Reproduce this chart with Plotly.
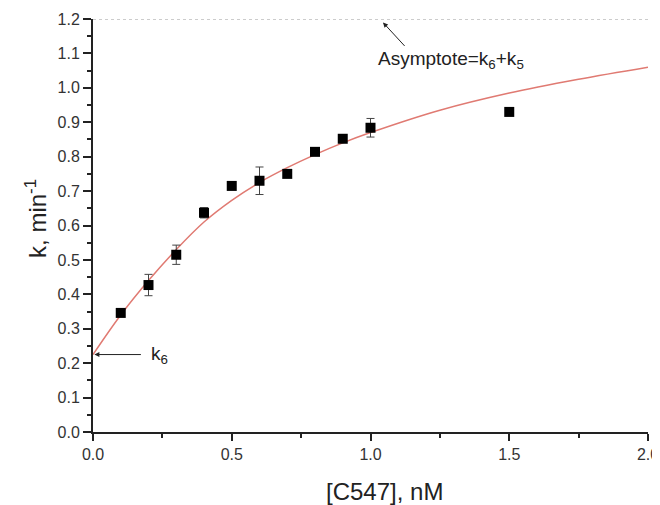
import plotly.graph_objects as go

# Data
conc = [0.1, 0.2, 0.3, 0.4, 0.5, 0.6, 0.7, 0.8, 0.9, 1.0, 1.5]
k_obs = [0.346, 0.427, 0.515, 0.637, 0.715, 0.730, 0.750, 0.814, 0.852, 0.884, 0.930]
k_err = [0.005, 0.031, 0.028, 0.015, 0.0, 0.040, 0.010, 0.0, 0.0, 0.027, 0.0]

fit_x = [0.0, 0.1, 0.2, 0.3, 0.4, 0.5, 0.6, 0.7, 0.8, 0.9, 1.0, 1.25, 1.5, 1.75, 2.0]
fit_y = [0.225, 0.34, 0.44, 0.53, 0.61, 0.673, 0.725, 0.768, 0.806, 0.84, 0.87, 0.935, 0.985, 1.025, 1.06]

asymptote = 1.2
k6 = 0.225

x_ticks = [0.0, 0.5, 1.0, 1.5, 2.0]
y_ticks = [0.0, 0.1, 0.2, 0.3, 0.4, 0.5, 0.6, 0.7, 0.8, 0.9, 1.0, 1.1, 1.2]

FONT = "Liberation Sans, Arial, sans-serif"
TXT = "#333333"

fig = go.Figure()

fig.add_trace(go.Scatter(
    x=[0.0, 2.0], y=[asymptote, asymptote], mode="lines",
    line=dict(color="#999999", width=1, dash="dot"), hoverinfo="skip", showlegend=False,
    cliponaxis=False,
))

fig.add_trace(go.Scatter(
    x=fit_x, y=fit_y, mode="lines", line=dict(color="#e07a72", width=1.5, shape="spline"),
    showlegend=False,
))

fig.add_trace(go.Scatter(
    x=conc, y=k_obs, mode="markers",
    marker=dict(symbol="square", size=10, color="#000000"),
    error_y=dict(type="data", array=k_err, visible=True, color="#444444", thickness=1, width=4),
    showlegend=False, cliponaxis=False,
))

# Annotation texts
fig.add_annotation(
    x=1.02, y=1.08, xref="x", yref="y", xanchor="left", yanchor="middle",
    text="Asymptote=k<sub>6</sub>+k<sub>5</sub>", showarrow=False,
    font=dict(family=FONT, size=19, color="#222222"),
)
fig.add_annotation(
    x=0.2, y=0.225, xref="x", yref="y", xanchor="left", yanchor="middle",
    text="k<sub>6</sub>", showarrow=False,
    font=dict(family=FONT, size=19, color="#222222"),
)
# Arrows
fig.add_annotation(
    x=1.045, y=1.19, xref="x", yref="y", text="", showarrow=True,
    ax=23, ay=25, axref="pixel", ayref="pixel",
    arrowhead=2, arrowsize=1, arrowwidth=1, arrowcolor="#222222",
)
fig.add_annotation(
    x=0.005, y=k6, xref="x", yref="y", text="", showarrow=True,
    ax=48, ay=0, axref="pixel", ayref="pixel",
    arrowhead=2, arrowsize=1, arrowwidth=1, arrowcolor="#222222",
)
# Axis titles
fig.add_annotation(
    x=0.526, y=-0.143, xref="paper", yref="paper", xanchor="center", yanchor="middle",
    text="[C547], nM", showarrow=False, font=dict(family=FONT, size=24, color="#222222"),
)
fig.add_annotation(
    x=-0.103, y=0.518, xref="paper", yref="paper", xanchor="center", yanchor="middle",
    text="k, min<sup>-1</sup>", textangle=-90, showarrow=False,
    font=dict(family=FONT, size=24, color="#222222"),
)

fig.update_layout(
    width=652, height=497,
    margin=dict(l=85, r=12, t=11, b=73, autoexpand=False),
    paper_bgcolor="white", plot_bgcolor="white",
    font=dict(family=FONT, color=TXT),
    xaxis=dict(
        range=[0, 2.0], tickvals=x_ticks, ticktext=[f"{v:.1f}" for v in x_ticks],
        automargin=False,
        showgrid=False, zeroline=False, showline=True, linecolor="#222222", linewidth=2,
        ticks="outside", ticklen=7, tickwidth=1.5, tickcolor="#222222",
        minor=dict(dtick=0.25, ticks="outside", ticklen=4, tickwidth=1.5, tickcolor="#222222", showgrid=False),
        tickfont=dict(size=16, color=TXT),
    ),
    yaxis=dict(
        range=[0, 1.2], tickvals=y_ticks, ticktext=[f"{v:.1f}" for v in y_ticks],
        automargin=False,
        showgrid=False, zeroline=False, showline=True, linecolor="#222222", linewidth=2,
        ticks="outside", ticklen=8, tickwidth=1.5, tickcolor="#222222",
        minor=dict(dtick=0.05, ticks="outside", ticklen=4, tickwidth=1.5, tickcolor="#222222", showgrid=False),
        tickfont=dict(size=16, color=TXT),
    ),
)

fig.write_html("out.html")
